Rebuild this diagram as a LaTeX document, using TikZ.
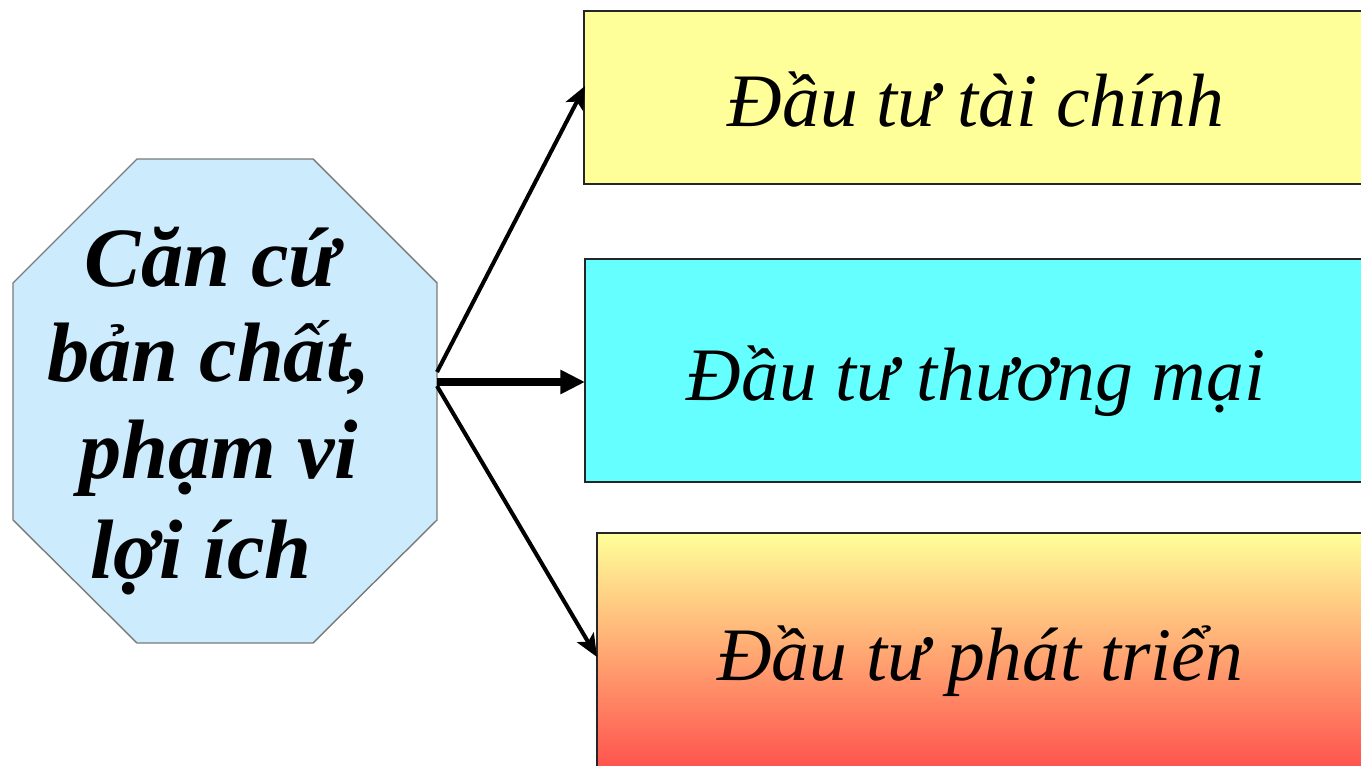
\documentclass[tikz,border=0pt]{standalone}
\usepackage{fontspec}
\setmainfont{Liberation Serif}
\usetikzlibrary{arrows.meta,fit}
\definecolor{octfill}{HTML}{CCEBFD}
\definecolor{octline}{HTML}{7A7A7A}
\definecolor{boxyellow}{HTML}{FFFF99}
\definecolor{boxcyan}{HTML}{66FFFF}
\definecolor{boxred}{HTML}{FF4A4A}
\begin{document}
\begin{tikzpicture}[x=0.02cm,y=-0.02cm,
  box/.style={draw=black!85, line width=0.8pt, inner sep=0pt},
  octtxt/.style={font=\fontsize{48}{56}\selectfont\bfseries\itshape, anchor=base, inner sep=0pt},
  lbl/.style={font=\fontsize{43}{50}\selectfont\itshape, anchor=base, inner sep=0pt},
  conn/.style={line width=2.3pt, -{Stealth[length=13pt,width=11pt,inset=3pt]}},
  connbig/.style={line width=4pt, -{Triangle[length=14pt,width=13pt]}}]
\clip (0,0) rectangle (1361,766);
\fill[white] (0,0) rectangle (1361,766);
% octagon
\draw[fill=octfill, draw=octline, line width=0.8pt]
  (137,159) -- (313,159) -- (437,283) -- (437,520) -- (313,643)
  -- (137,643) -- (13,520) -- (13,283) -- cycle;
\node[fit={(13,159) (437,643)}, inner sep=0pt] (oct) {};
\node[octtxt] (o1) at (212,287) {Căn cứ};
\node[octtxt] (o2) at (209,381) {bản chất,};
\node[octtxt] (o3) at (219,478) {phạm vi};
\node[octtxt] (o4) at (201,578) {lợi ích};
% boxes
\node[box, fill=boxyellow, fit={(584,11) (1400,184)}] (b1) {};
\node[box, fill=boxcyan, fit={(585,259) (1400,482)}] (b2) {};
\node[box, top color=boxyellow, bottom color=boxred, fit={(597,533) (1400,780)}] (b3) {};
\node[lbl] (l1) at (976,127) {Đầu tư tài chính};
\node[lbl] (l2) at (976,400) {Đầu tư thương mại};
\node[lbl] (l3) at (980,680) {Đầu tư phát triển};
% connectors
\coordinate (s1) at (437,372);
\coordinate (s2) at (437,382);
\coordinate (s3) at (437,386);
\coordinate (e1) at (585,86);
\coordinate (e2) at (585,382);
\coordinate (e3) at (597,657);
\draw[conn] (s1) -- (e1);
\draw[connbig] (s2) -- (e2);
\draw[conn] (s3) -- (e3);
\end{tikzpicture}
\end{document}
